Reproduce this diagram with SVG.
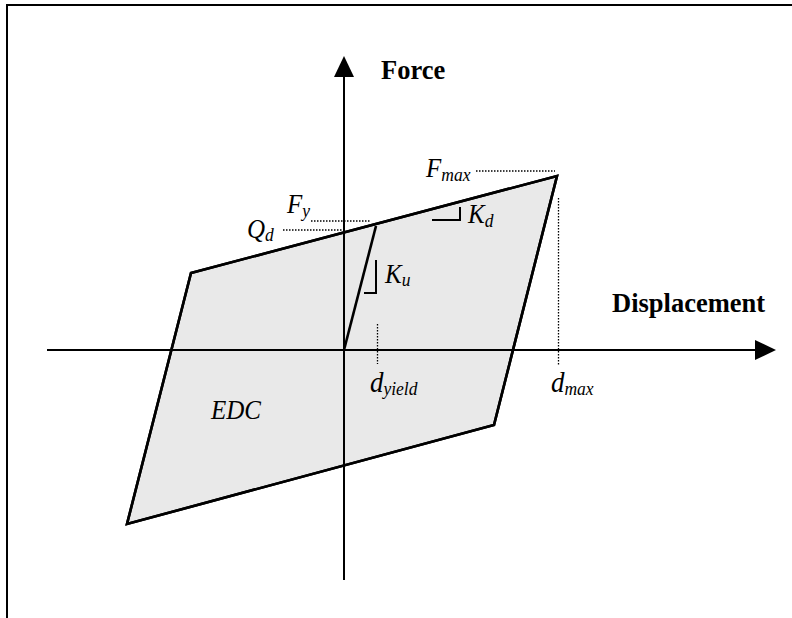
<svg xmlns="http://www.w3.org/2000/svg" width="792" height="618" viewBox="0 0 792 618">
<style>
.frame{fill:none;stroke:#000;stroke-width:2}
.axis{fill:none;stroke:#000;stroke-width:2}
.loop{fill:#e9e9e9;stroke:#000;stroke-width:2.6;stroke-linejoin:miter}
.edge{fill:none;stroke:#000;stroke-width:2.6}
.dot{fill:none;stroke:#000;stroke-width:1.3;stroke-dasharray:1.5 1.5}
.tick{fill:none;stroke:#000;stroke-width:2}
.head{fill:#000}
.bold{font-family:"Liberation Serif","Times New Roman",serif;font-weight:bold;font-size:26.5px;fill:#000}
.it{font-family:"Liberation Serif","Times New Roman",serif;font-style:italic;font-size:25px;fill:#000}
.sub{font-size:17.5px}
.big{font-size:27px}
</style>
<rect width="792" height="618" fill="#fff"/>
<path class="frame" d="M7,618 V5 H792"/>
<g id="loop">
<polygon class="loop" points="191,273 557,176 494,425 127,524"/>
</g>
<g id="connectors">
<line class="axis" x1="47" y1="350" x2="757" y2="350"/>
<polygon class="head" points="776,350 755,340 755,360"/>
<line class="axis" x1="344" y1="580" x2="344" y2="75"/>
<polygon class="head" points="344,56 334,77 354,77"/>
<line class="edge" x1="344" y1="350" x2="376" y2="226"/>
<polygon points="191,273 557,176 494,425 127,524" fill="none" stroke="#000" stroke-width="2.6"/>
<line class="dot" x1="476" y1="171" x2="555" y2="171"/>
<line class="dot" x1="311" y1="221" x2="371" y2="221"/>
<line class="dot" x1="283" y1="230" x2="343" y2="230"/>
<line class="dot" x1="558.5" y1="198" x2="558.5" y2="366"/>
<line class="dot" x1="377.5" y1="324" x2="377.5" y2="364"/>
<path class="tick" d="M432,220 H460 V207"/>
<path class="tick" d="M376,260 V293 H364"/>
</g>
<g id="force-label"><text class="bold" transform="translate(381,79) scale(1,1.07)">Force</text></g>
<g id="displacement-label"><text class="bold" transform="translate(612,312) scale(1,1.07)">Displacement</text></g>
<g id="fmax-label"><text class="it" transform="translate(426,177) scale(1,1.06)">F<tspan class="sub" dy="4">max</tspan></text></g>
<g id="fy-label"><text class="it" transform="translate(287,213) scale(1,1.06)">F<tspan class="sub" dy="4">y</tspan></text></g>
<g id="qd-label"><text class="it" transform="translate(247,238) scale(1,1.06)">Q<tspan class="sub" dy="3">d</tspan></text></g>
<g id="kd-label"><text class="it" transform="translate(468,223) scale(1,1.06)">K<tspan class="sub" dy="4">d</tspan></text></g>
<g id="ku-label"><text class="it" transform="translate(385,283) scale(1,1.06)">K<tspan class="sub" dy="3">u</tspan></text></g>
<g id="dyield-label"><text class="it big" transform="translate(370,392) scale(1,1.1)">d<tspan class="sub" dy="3">yield</tspan></text></g>
<g id="dmax-label"><text class="it big" transform="translate(551,392) scale(1,1.1)">d<tspan class="sub" dy="3">max</tspan></text></g>
<g id="edc-label"><text class="it" transform="translate(211,419) scale(1,1.06)">EDC</text></g>
</svg>
